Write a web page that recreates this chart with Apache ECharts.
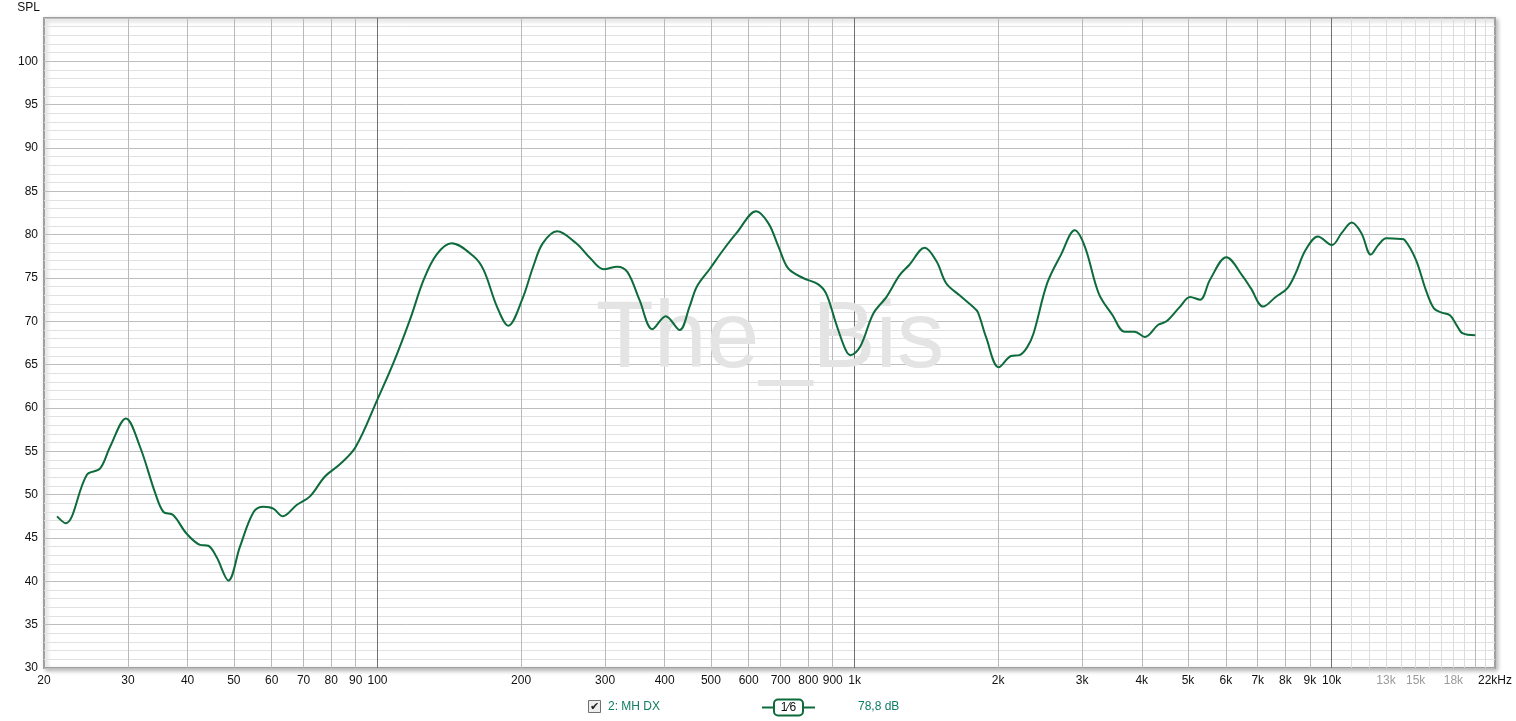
<!DOCTYPE html>
<html>
<head>
<meta charset="utf-8">
<script src="https://cdn.jsdelivr.net/npm/echarts@6/dist/echarts.min.js"></script>
<style>
html,body{margin:0;padding:0;background:#fff;}
#chart{width:1516px;height:721px;}
</style>
</head>
<body>
<div id="chart"></div>
<script>
// Frequency (Hz) and SPL (dB)
var freqs = [21.3,22.2,24.6,26.2,27.5,29.7,31.8,34.2,35.6,37.3,39.8,42.5,44.2,46.0,48.7,51.5,55.0,57.7,60.5,63.3,67.7,72.2,77.6,83.4,90,100,
  108,117,125,133,143,159,167,178,188,201,212,222,238,261,279,298,318,334,354,377,402,430,451,467,498,530,566,622,660,693,726,780,838,872,914,958,981,
  1028,1095,1166,1242,1302,1403,1486,1556,1660,1768,1812,1886,2006,2128,2216,2300,2372,2534,2709,2894,3040,3250,3474,3680,3866,4060,4330,4508,4812,5050,5300,5560,6016,6514,6774,7184,7632,8072,8398,8812,9360,
  10012,10500,11016,11540,12080,12520,13020,13980,14220,15020,15760,16380,17020,17700,18260,18840,20000];
var spl = [47.5,46.7,52.3,53.0,55.5,58.8,55.5,50.2,48.0,47.65,45.5,44.2,44.1,42.8,40.1,44.0,48.0,48.6,48.4,47.5,48.8,49.8,52.1,53.5,55.5,61.0,
  65.2,70.2,74.8,77.7,79.0,77.5,75.9,71.7,69.5,72.5,76.3,79.0,80.4,79.0,77.3,76.0,76.3,75.7,72.5,69.1,70.6,69.0,71.7,74.0,76.1,78.2,80.2,82.7,81.3,78.6,76.1,75.0,74.3,73.2,69.8,66.7,66.1,
  67.1,70.9,72.8,75.3,76.5,78.5,76.9,74.4,73.0,71.7,71.1,68.2,64.7,66.0,66.1,67.0,68.6,74.4,77.7,80.5,78.6,73.2,70.7,68.8,68.8,68.2,69.6,70.0,71.7,72.8,72.5,74.8,77.4,75.2,73.8,71.7,72.8,73.8,75.5,78.2,79.8,
  78.8,80.2,81.4,80.2,77.7,78.8,79.6,79.5,79.4,77.1,73.6,71.5,71.0,70.7,69.6,68.6,68.4];

// Tick labels on the frequency axis
var xLabelValues = [20,30,40,50,60,70,80,90,100,200,300,400,500,600,700,800,900,1000,2000,3000,4000,5000,6000,7000,8000,9000,10000,13000,15000,18000,22000];
var xGrayLabels = [13000,15000,18000];
// Gridline positions
var xMediumLines = [30,40,50,60,70,80,90,200,300,400,500,600,700,800,900,2000,3000,4000,5000,6000,7000,8000,9000,20000];
var xLightLines = [11000,12000,13000,14000,15000,16000,17000,18000,19000,21000];
var xDecadeLines = [100,1000,10000];

var FONT = 'Liberation Sans, Arial, sans-serif';
var GREEN = '#0d6b3c';
var TEXTGREEN = '#0f7d62';

var data = freqs.map(function(f,i){ return [f, spl[i]]; });

function xAxisBase(){
  return {
    type:'log', logBase:10, min:20, max:22000, gridIndex:0, position:'bottom',
    axisLine:{show:false}, axisTick:{show:false}, axisLabel:{show:false},
    splitLine:{show:false}, minorSplitLine:{show:false}
  };
}
var ax0 = xAxisBase();
ax0.axisTick = {show:false, customValues: xMediumLines};
ax0.splitLine = {show:true, lineStyle:{color:'#b9b9b9', width:1}};
ax0.axisLabel = {
  show:true, customValues: xLabelValues, margin:7, fontSize:12, fontFamily:FONT,
  formatter:function(v){
    v = Math.round(v);
    if (v === 22000) return '22kHz';
    if (v >= 1000) return (v/1000) + 'k';
    return '' + v;
  },
  color:function(v){
    v = Math.round(Number(v));
    return xGrayLabels.indexOf(v) >= 0 ? '#9a9a9a' : '#111';
  }
};
var ax1 = xAxisBase();
ax1.axisTick = {show:false, customValues: xLightLines};
ax1.splitLine = {show:true, lineStyle:{color:'#dcdcdc', width:1}};
var ax2 = xAxisBase();
ax2.axisTick = {show:false, customValues: xDecadeLines};
ax2.splitLine = {show:true, lineStyle:{color:'#707070', width:1}};

var chart = echarts.init(document.getElementById('chart'), null, {renderer:'canvas'});
chart.setOption({
  animation:false,
  backgroundColor:'#fff',
  grid:{
    left:44, right:21, top:18, bottom:53, show:true, containLabel:false, outerBoundsMode:'none',
    backgroundColor:'#fff', borderColor:'#a0a0a0', borderWidth:2,
    shadowColor:'rgba(0,0,0,0.25)', shadowBlur:4, shadowOffsetX:2, shadowOffsetY:2
  },
  xAxis:[ax1, ax0, ax2],
  yAxis:{
    type:'value', min:30, max:105, interval:5,
    name:'SPL', nameLocation:'end', nameGap:4,
    nameTextStyle:{fontSize:12, fontFamily:FONT, color:'#111', align:'right', padding:[0,4,0,0]},
    axisLine:{show:false}, axisTick:{show:false},
    axisLabel:{fontSize:12, fontFamily:FONT, color:'#111', margin:6, showMaxLabel:false},
    splitLine:{show:true, lineStyle:{color:'#bdbdbd', width:1}},
    minorTick:{show:false, splitNumber:5},
    minorSplitLine:{show:true, lineStyle:{color:'#e1e1e1', width:1}}
  },
  graphic:[
    {type:'text', z:1, silent:true,
     style:{text:'The_Bis', x:770, y:341, align:'center', verticalAlign:'middle', fontSize:95, fontFamily:FONT, fill:'#e4e4e4'}},
    // legend
    {type:'rect', shape:{x:588.5, y:700.5, width:12, height:12}, style:{fill:'#eeeeee', stroke:'#707070', lineWidth:1}},
    {type:'text', style:{text:'\u2714', x:594.5, y:707, align:'center', verticalAlign:'middle', fontSize:11, fontFamily:'DejaVu Sans', fill:'#222'}},
    {type:'text', style:{text:'2: MH DX', x:608, y:707, align:'left', verticalAlign:'middle', fontSize:12, fontFamily:FONT, fill:TEXTGREEN}},
    {type:'line', shape:{x1:762, y1:707.5, x2:774, y2:707.5}, style:{stroke:GREEN, lineWidth:2}},
    {type:'rect', shape:{x:774, y:699.5, width:29, height:16, r:4}, style:{fill:'#fff', stroke:GREEN, lineWidth:2}},
    {type:'text', style:{text:'1\u20446', x:788.5, y:708, align:'center', verticalAlign:'middle', fontSize:12, fontFamily:FONT, fill:'#111'}},
    {type:'line', shape:{x1:803, y1:707.5, x2:815, y2:707.5}, style:{stroke:GREEN, lineWidth:2}},
    {type:'text', style:{text:'78,8 dB', x:858, y:707, align:'left', verticalAlign:'middle', fontSize:12, fontFamily:FONT, fill:TEXTGREEN}}
  ],
  series:[{
    type:'line', xAxisIndex:1, yAxisIndex:0, data:data,
    smooth:0.35, showSymbol:false, symbol:'none', z:5,
    lineStyle:{color:GREEN, width:2}
  }]
});
</script>
</body>
</html>
